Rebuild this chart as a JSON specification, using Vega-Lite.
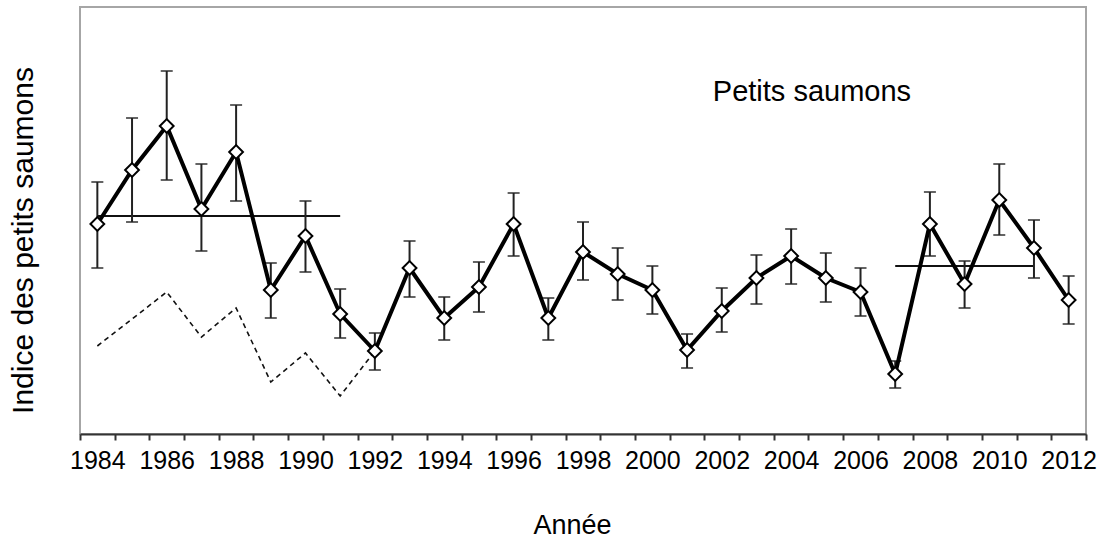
{
  "$schema": "https://vega.github.io/schema/vega-lite/v6.json",
  "autosize": {"type": "none"},
  "width": 1006,
  "height": 427,
  "padding": {"left": 80, "top": 7, "right": 16, "bottom": 105},
  "background": "white",
  "config": {
    "view": {"stroke": "#a6a6a6", "strokeWidth": 2},
    "font": "Liberation Sans",
    "axis": {"labelOverlap": false}
  },
  "datasets": {
    "main": [
      {"annee": 1984, "indice": 2.10, "bas": 1.66, "haut": 2.52},
      {"annee": 1985, "indice": 2.64, "bas": 2.12, "haut": 3.16},
      {"annee": 1986, "indice": 3.08, "bas": 2.54, "haut": 3.63},
      {"annee": 1987, "indice": 2.25, "bas": 1.83, "haut": 2.70},
      {"annee": 1988, "indice": 2.82, "bas": 2.33, "haut": 3.29},
      {"annee": 1989, "indice": 1.44, "bas": 1.16, "haut": 1.71},
      {"annee": 1990, "indice": 1.98, "bas": 1.62, "haut": 2.33},
      {"annee": 1991, "indice": 1.20, "bas": 0.96, "haut": 1.45},
      {"annee": 1992, "indice": 0.83, "bas": 0.64, "haut": 1.01},
      {"annee": 1993, "indice": 1.66, "bas": 1.37, "haut": 1.93},
      {"annee": 1994, "indice": 1.16, "bas": 0.94, "haut": 1.37},
      {"annee": 1995, "indice": 1.47, "bas": 1.22, "haut": 1.72},
      {"annee": 1996, "indice": 2.10, "bas": 1.78, "haut": 2.41},
      {"annee": 1997, "indice": 1.16, "bas": 0.94, "haut": 1.36},
      {"annee": 1998, "indice": 1.82, "bas": 1.54, "haut": 2.12},
      {"annee": 1999, "indice": 1.60, "bas": 1.34, "haut": 1.86},
      {"annee": 2000, "indice": 1.44, "bas": 1.20, "haut": 1.68},
      {"annee": 2001, "indice": 0.84, "bas": 0.66, "haut": 1.00},
      {"annee": 2002, "indice": 1.23, "bas": 1.02, "haut": 1.46},
      {"annee": 2003, "indice": 1.56, "bas": 1.30, "haut": 1.79},
      {"annee": 2004, "indice": 1.78, "bas": 1.50, "haut": 2.05},
      {"annee": 2005, "indice": 1.56, "bas": 1.32, "haut": 1.81},
      {"annee": 2006, "indice": 1.42, "bas": 1.18, "haut": 1.66},
      {"annee": 2007, "indice": 0.60, "bas": 0.46, "haut": 0.73},
      {"annee": 2008, "indice": 2.10, "bas": 1.78, "haut": 2.42},
      {"annee": 2009, "indice": 1.50, "bas": 1.26, "haut": 1.73},
      {"annee": 2010, "indice": 2.34, "bas": 1.99, "haut": 2.70},
      {"annee": 2011, "indice": 1.86, "bas": 1.56, "haut": 2.14},
      {"annee": 2012, "indice": 1.34, "bas": 1.10, "haut": 1.58}
    ],
    "pointille": [
      {"annee": 1984, "indice": 0.88},
      {"annee": 1985, "indice": 1.15},
      {"annee": 1986, "indice": 1.42},
      {"annee": 1987, "indice": 0.97},
      {"annee": 1988, "indice": 1.26},
      {"annee": 1989, "indice": 0.52},
      {"annee": 1990, "indice": 0.81},
      {"annee": 1991, "indice": 0.38},
      {"annee": 1992, "indice": 0.83}
    ],
    "moyenne": [
      {"annee": 1984, "fin": 1991, "indice": 2.18},
      {"annee": 2007, "fin": 2011, "indice": 1.68}
    ],
    "etiquette": [
      {"annee": 2004.6, "indice": 3.42, "texte": "Petits saumons"}
    ]
  },
  "encoding": {
    "x": {
      "field": "annee", "type": "quantitative",
      "scale": {"domain": [1983.5, 2012.5], "nice": false, "zero": false},
      "axis": {
        "values": [1983.5, 1984, 1984.5, 1985.5, 1986, 1986.5, 1987.5, 1988, 1988.5, 1989.5, 1990, 1990.5, 1991.5, 1992, 1992.5, 1993.5, 1994, 1994.5, 1995.5, 1996, 1996.5, 1997.5, 1998, 1998.5, 1999.5, 2000, 2000.5, 2001.5, 2002, 2002.5, 2003.5, 2004, 2004.5, 2005.5, 2006, 2006.5, 2007.5, 2008, 2008.5, 2009.5, 2010, 2010.5, 2011.5, 2012, 2012.5],
        "labelExpr": "datum.value % 2 === 0 ? '' + datum.value : ''",
        "tickOpacity": {"condition": {"test": "datum.value % 1 === 0", "value": 0}, "value": 1},
        "tickSize": 6, "tickColor": "#333333", "tickWidth": 2,
        "domainColor": "#333333", "domainWidth": 2,
        "labelFont": "Liberation Sans", "labelFontSize": 25, "labelColor": "black", "labelPadding": 8,
        "labelOverlap": false, "labelFlush": false, "labelBound": false,
        "grid": false,
        "title": "Année", "titleFont": "Liberation Sans", "titleFontSize": 27, "titleFontWeight": "normal", "titleColor": "black",
        "titleX": 492, "titleY": 99, "titleBaseline": "alphabetic", "titleAlign": "center"
      }
    },
    "y": {
      "field": "indice", "type": "quantitative",
      "scale": {"domain": [0, 4.27], "nice": false, "zero": false},
      "axis": {
        "labels": false, "ticks": false, "domain": false, "grid": false,
        "title": "Indice des petits saumons", "titleFont": "Liberation Sans", "titleFontSize": 30, "titleFontWeight": "normal", "titleColor": "black",
        "titleX": -48, "titleY": 233, "titleAngle": -90, "titleBaseline": "alphabetic", "titleAlign": "center"
      }
    }
  },
  "layer": [
    {
      "data": {"name": "moyenne"},
      "mark": {"type": "rule", "color": "#111111", "strokeWidth": 2},
      "encoding": {
        "x2": {"field": "fin"}
      }
    },
    {
      "data": {"name": "pointille"},
      "mark": {"type": "line", "color": "#111111", "strokeWidth": 1.6, "strokeDash": [5, 4]},
      "encoding": {}
    },
    {
      "data": {"name": "main"},
      "mark": {"type": "errorbar", "color": "#222222", "thickness": 2, "ticks": {"size": 12, "thickness": 2, "color": "#222222"}},
      "encoding": {
        "y": {
          "field": "bas", "type": "quantitative",
          "scale": {"domain": [0, 4.27], "nice": false, "zero": false},
          "title": "Indice des petits saumons"
        },
        "y2": {"field": "haut"}
      }
    },
    {
      "data": {"name": "main"},
      "mark": {"type": "line", "color": "black", "strokeWidth": 4},
      "encoding": {}
    },
    {
      "data": {"name": "main"},
      "mark": {"type": "point", "shape": "diamond", "filled": true, "fill": "white", "stroke": "black", "strokeWidth": 2, "size": 190, "opacity": 1},
      "encoding": {}
    },
    {
      "data": {"name": "etiquette"},
      "mark": {"type": "text", "font": "Liberation Sans", "fontSize": 29, "color": "black", "align": "center", "baseline": "middle"},
      "encoding": {
        "text": {"field": "texte"}
      }
    }
  ]
}
